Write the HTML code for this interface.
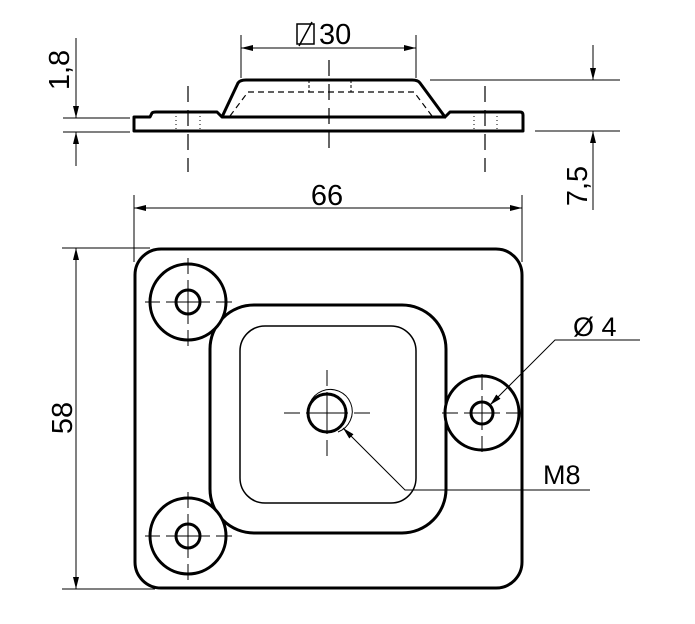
<!DOCTYPE html>
<html><head><meta charset="utf-8"><style>
html,body{margin:0;padding:0;background:#fff;}
svg{display:block;}
text{font-family:"Liberation Sans",sans-serif;fill:#000;}
</style></head><body>
<svg width="695" height="624" viewBox="0 0 695 624" xmlns="http://www.w3.org/2000/svg">
<defs>
<marker id="a" viewBox="0 0 12 6" refX="12" refY="3" markerWidth="12" markerHeight="6" orient="auto-start-reverse" markerUnits="userSpaceOnUse"><path d="M0,0 L12,3 L0,6 z" fill="#000"/></marker>
</defs>
<g fill="none" stroke="#000">
<!-- side view -->
<path d="M134,117 H150 L152,113 Q153,112 156,112 H217 L222,117 L238,83 Q240,80 246,80 H412 Q418,80 420,83 L445,117 L450,112 H520 Q523,112 523,115 V131 H134 Z" stroke-width="3" stroke-linejoin="round"/>
<line x1="222" y1="117" x2="446" y2="117" stroke-width="3"/>
<path d="M230,116 L248,92 H414 L432,116" stroke-width="1.2" stroke-dasharray="6,4"/>
<line x1="309" y1="80" x2="309" y2="92" stroke-width="1" stroke-dasharray="3,2"/>
<line x1="351" y1="80" x2="351" y2="92" stroke-width="1" stroke-dasharray="3,2"/>
<g stroke-width="1" stroke-dasharray="1,3">
<line x1="176" y1="112" x2="176" y2="131"/><line x1="200" y1="112" x2="200" y2="131"/>
<line x1="474" y1="112" x2="474" y2="131"/><line x1="497" y1="112" x2="497" y2="131"/>
</g>
<g stroke-width="1.2" stroke-dasharray="16,8">
<line x1="329" y1="60" x2="329" y2="148"/>
<line x1="188" y1="86" x2="188" y2="172"/>
<line x1="485" y1="86" x2="485" y2="172"/>
</g>
<!-- dims -->
<g stroke-width="1">
<line x1="241" y1="35" x2="241" y2="78"/><line x1="416" y1="35" x2="416" y2="78"/>
<line x1="241" y1="48" x2="416" y2="48" marker-start="url(#a)" marker-end="url(#a)"/>
<line x1="63" y1="118" x2="130" y2="118"/><line x1="63" y1="132" x2="130" y2="132"/>
<line x1="76" y1="38" x2="76" y2="118" marker-end="url(#a)"/>
<line x1="76" y1="166" x2="76" y2="132" marker-end="url(#a)"/>
<line x1="430" y1="80" x2="620" y2="80"/><line x1="535" y1="131" x2="620" y2="131"/>
<line x1="593" y1="45" x2="593" y2="80" marker-end="url(#a)"/>
<line x1="593" y1="210" x2="593" y2="131" marker-end="url(#a)"/>
<line x1="134" y1="195" x2="134" y2="262"/><line x1="522" y1="195" x2="522" y2="262"/>
<line x1="134" y1="208" x2="522" y2="208" marker-start="url(#a)" marker-end="url(#a)"/>
<line x1="62" y1="248" x2="150" y2="248"/><line x1="62" y1="589" x2="155" y2="589"/>
<line x1="76" y1="248" x2="76" y2="589" marker-start="url(#a)" marker-end="url(#a)"/>
</g>
<!-- plan -->
<rect x="135" y="249" width="387" height="339" rx="26" stroke-width="3"/>
<rect x="210" y="305" width="236" height="228" rx="44" stroke-width="3"/>
<rect x="240" y="326" width="176" height="177" rx="25" stroke-width="1.5"/>
<circle cx="188" cy="302" r="38" stroke-width="3" fill="#fff"/>
<circle cx="188" cy="302" r="12" stroke-width="3"/>
<circle cx="188" cy="536" r="38" stroke-width="3" fill="#fff"/>
<circle cx="188" cy="536" r="12" stroke-width="3"/>
<circle cx="482" cy="413" r="37" stroke-width="3" fill="#fff"/>
<circle cx="482" cy="413" r="11" stroke-width="3"/>
<circle cx="327" cy="413" r="19" stroke-width="3"/>
<path d="M310,420 A22,22 0 1 1 338,432" stroke-width="1"/>
<g stroke-width="1">
<path d="M145,302 H160 M166,302 H210 M216,302 H232 M188,258 V274 M188,280 V324 M188,330 V346"/>
<path d="M145,536 H160 M166,536 H210 M216,536 H232 M188,492 V508 M188,514 V558 M188,564 V580"/>
<path d="M442,413 H458 M464,413 H500 M506,413 H522 M482,374 V390 M482,396 V430 M482,436 V452"/>
<path d="M284,413 H300 M306,413 H348 M354,413 H370 M327,370 V386 M327,392 V434 M327,440 V456"/>
<polyline points="640,340 555,340 490,405" marker-end="url(#a)"/>
<polyline points="590,490 405,490 343,428" marker-end="url(#a)"/>
</g>
</g>
<!-- texts -->
<text x="319" y="44" font-size="29">30</text>
<g fill="none" stroke="#000" stroke-width="1.5"><rect x="297" y="24" width="17" height="20"/><line x1="299" y1="46" x2="312" y2="22"/></g>
<text x="327" y="205" font-size="29" text-anchor="middle">66</text>
<text transform="translate(69,70) rotate(-90)" font-size="29" text-anchor="middle">1,8</text>
<text transform="translate(587,186) rotate(-90)" font-size="29" text-anchor="middle">7,5</text>
<text transform="translate(72,418) rotate(-90)" font-size="29" text-anchor="middle">58</text>
<text x="573" y="336" font-size="27">Ø 4</text>
<text x="543" y="484" font-size="27">M8</text>
</svg>
</body></html>
